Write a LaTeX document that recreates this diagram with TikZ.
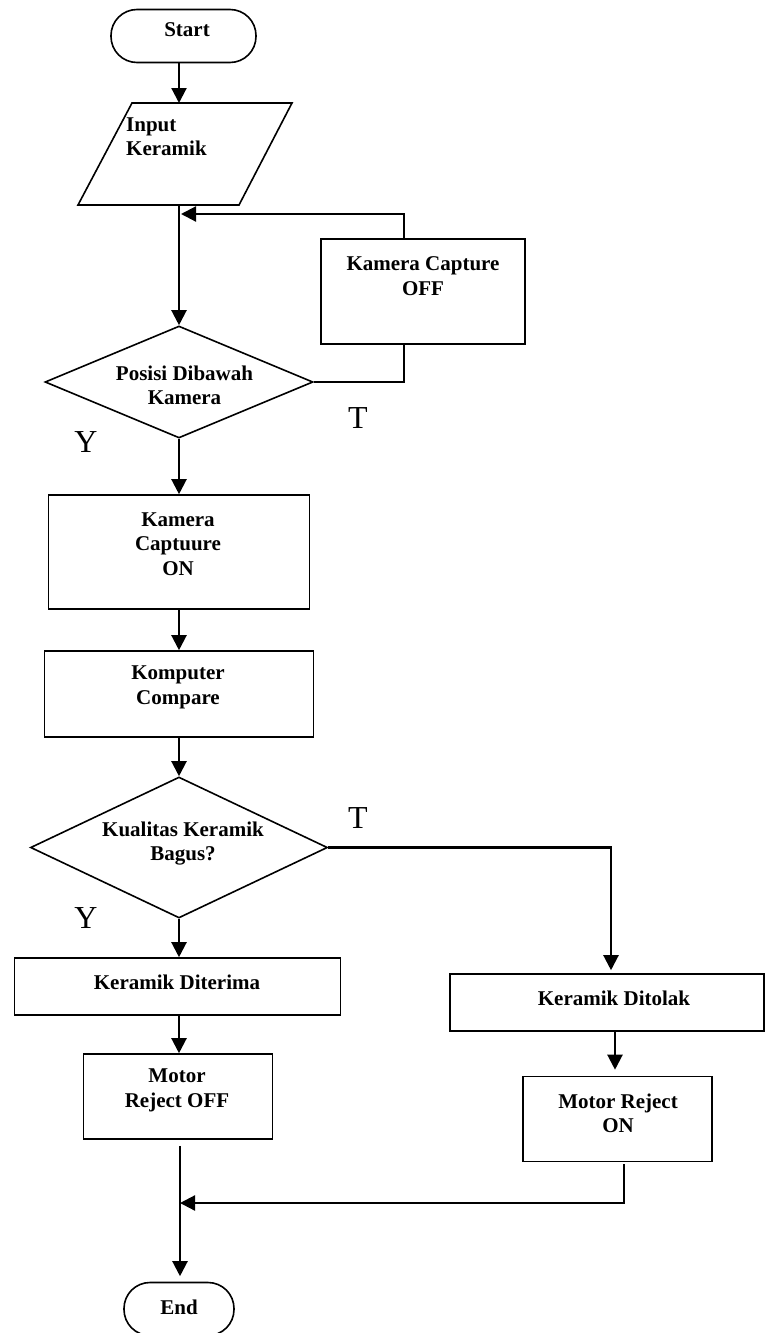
\documentclass[tikz,border=0pt]{standalone}
\usepackage{fontspec}
\setmainfont{Liberation Serif}
\usetikzlibrary{arrows.meta,shapes.geometric}
\begin{document}
\begin{tikzpicture}[x=1pt,y=-1pt,
  outl/.style={draw,line width=1.6pt},
  box/.style={outl,rectangle,inner sep=0pt},
  dia/.style={outl,diamond,inner sep=0pt},
  term/.style={outl,rectangle,rounded corners=26pt,inner sep=0pt},
  lbl/.style={font=\bfseries\fontsize{21}{24.5}\selectfont,align=center,inner sep=0pt},
  yt/.style={font=\fontsize{32}{32}\selectfont,inner sep=0pt},
  conn/.style={line width=2.2pt},
  arr/.style={conn,-{Triangle[length=15pt,width=15pt]}}
]
\useasboundingbox (0,0) rectangle (765,1333);

% coordinates for vertical lines
\coordinate (sp) at (179,0);
\coordinate (fb) at (404,214);
\coordinate (join) at (181,214);
\coordinate (tc) at (611,0);
\coordinate (tc2) at (615,0);
\coordinate (rc) at (624,0);
\coordinate (mg) at (180,1203);
\coordinate (inTop) at (179,103);
\coordinate (inBot) at (179,205);

% shapes
\node[term,minimum width=145pt,minimum height=53pt] (start) at (183.5,36) {};
\node[lbl] (startT) at (187,30) {Start};

\draw[outl] (132,103) -- (292,103) -- (239,205) -- (78,205) -- cycle;
\node[lbl,align=left,anchor=north west] (inT) at (126,117.5) {Input\\Keramik};

\node[box,minimum width=204pt,minimum height=105pt] (camoff) at (423,291.5) {};
\node[lbl] (camoffT) at (423,276) {Kamera Capture\\OFF};

\node[dia,minimum width=268pt,minimum height=112pt] (d1) at (179,382) {};
\node[lbl] (d1T) at (184.5,385.5) {Posisi Dibawah\\Kamera};

\node[box,minimum width=261pt,minimum height=114pt] (con) at (179,552) {};
\node[lbl] (conT) at (178,544) {Kamera\\Captuure\\ON};

\node[box,minimum width=269pt,minimum height=86pt] (komp) at (179,694) {};
\node[lbl] (kompT) at (178,687.5) {Komputer\\Compare};

\node[dia,minimum width=297pt,minimum height=141pt] (d2) at (179,847.5) {};
\node[lbl] (d2T) at (183,843.5) {Kualitas Keramik\\Bagus?};

\node[box,minimum width=326pt,minimum height=57pt] (dit) at (177.5,986.5) {};
\node[lbl] (ditT) at (177,982) {Keramik Diterima};

\node[box,minimum width=189pt,minimum height=85pt] (moff) at (178,1096.5) {};
\node[lbl] (moffT) at (177,1090.5) {Motor\\Reject OFF};

\node[box,minimum width=314pt,minimum height=57pt] (tol) at (607,1002.5) {};
\node[lbl] (tolT) at (614,998) {Keramik Ditolak};

\node[box,minimum width=189pt,minimum height=85pt] (mon) at (617.5,1119) {};
\node[lbl] (monT) at (618,1113.5) {Motor Reject\\ON};

\node[term,minimum width=110pt,minimum height=53pt] (end) at (179,1309) {};
\node[lbl] (endT) at (179,1307) {End};

% Y / T labels
\node[yt] (t1) at (358,418) {T};
\node[yt] (y1) at (86,442) {Y};
\node[yt] (t2) at (358,818) {T};
\node[yt] (y2) at (86,918) {Y};

% connectors
\draw[arr] (inTop |- start.south) -- (inTop);
\draw[arr] (inBot) -- (d1.north);
\draw[arr] (camoff.north -| fb) -- (fb) -- (join);
\draw[conn] (d1.east) -| (camoff.south -| fb);
\draw[arr] (d1.south) -- (con.north);
\draw[arr] (con.south) -- (komp.north);
\draw[arr] (komp.south) -- (d2.north);
\draw[arr] (d2.south) -- (dit.north -| sp);
\draw[arr] (dit.south -| sp) -- (moff.north -| sp);
\draw[arr,shorten >=3pt] (d2.east) -| (tol.north -| tc);
\draw[arr,shorten >=6pt] (tol.south -| tc2) -- (mon.north -| tc2);
\draw[arr] ([yshift=-2pt]mon.south -| rc) |- (mg);
\draw[arr,shorten >=5.5pt] ([yshift=-6pt]moff.south -| mg) -- (end.north -| mg);
\end{tikzpicture}
\end{document}
